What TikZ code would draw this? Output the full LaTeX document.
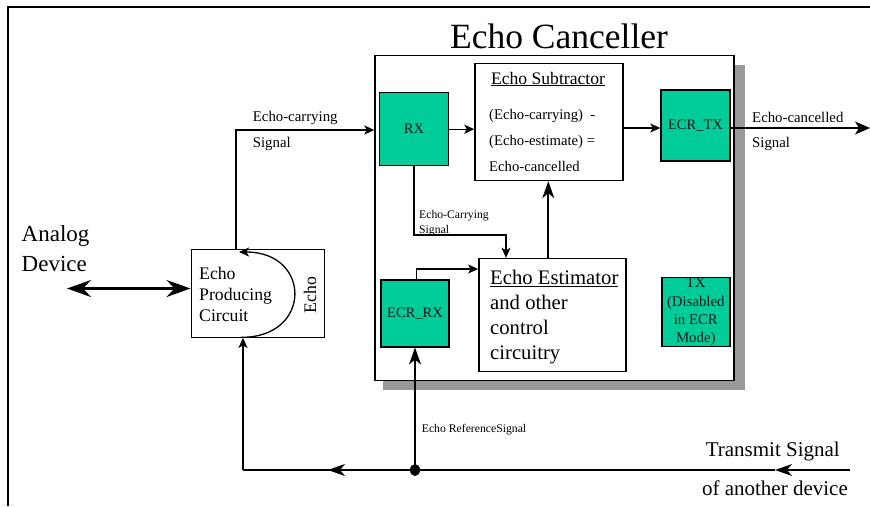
\documentclass[tikz,border=0pt]{standalone}
\usepackage{fontspec}
\setmainfont{Liberation Serif}
\usetikzlibrary{arrows.meta}
\definecolor{ecgreen}{RGB}{0,204,153}
\definecolor{shadowgray}{RGB}{153,153,153}
\newcommand\fsz[2]{\fontsize{#1}{#2}\selectfont}

\begin{document}
\begin{tikzpicture}[x=1pt,y=-1pt,
  box/.style={draw, line width=1.4pt, inner sep=0pt},
  greenbox/.style={box, fill=ecgreen, text=black!90},
  conn/.style={line width=1.3pt},
  arr/.style={conn, -{Stealth[length=10pt,width=9pt,inset=2.5pt]}},
  bigarr/.style={line width=1.8pt, -{Stealth[length=17pt,width=12pt,inset=5pt]}},
  txt/.style={inner sep=0pt, anchor=west},
]
\useasboundingbox (0,0) rectangle (870,506);

% frame
\draw[line width=2.2pt] (8,506) -- (8,7) -- (870,7);

% title
\node[font=\fsz{35.5}{40}] (title) at (559,36) {Echo Canceller};

% echo canceller block with drop shadow
\fill[shadowgray] (383,65) rectangle (745,390);
\node[box, fill=white, minimum width=359pt, minimum height=325pt] (main) at (554.5,218) {};

% inner blocks
\node[box, minimum width=148pt, minimum height=117pt] (sub) at (549,122) {};
\node[txt, anchor=center, font=\fsz{17.6}{20}] (subhead) at (548,79) {\underline{Echo Subtractor}};
\node[txt, align=left, font=\fsz{14.7}{26.3}] (subbody) at (489,140.5)
  {(Echo-carrying)\ \ -\\(Echo-estimate) =\\Echo-cancelled};

\node[greenbox, minimum width=69pt, minimum height=73pt, font=\fsz{14.5}{17}] (rx) at (414,129.2) {RX};
\node[greenbox, minimum width=69pt, minimum height=71pt, font=\fsz{14.5}{17}] (ecrtx) at (695.5,125.5) {ECR\_TX};

\node[box, minimum width=147pt, minimum height=113pt] (est) at (552.3,315) {};
\node[txt, align=left, font=\fsz{20.7}{25}] (esttext) at (490,317.5)
  {\underline{Echo Estimator}\\and other\\control\\circuitry};

\node[greenbox, minimum width=68pt, minimum height=67pt, font=\fsz{14.5}{17}] (ecrrx) at (415,313.3) {ECR\_RX};
\node[greenbox, minimum width=68pt, minimum height=69pt, align=center, font=\fsz{14.8}{18.3}] (tx) at (695.8,312)
  {TX\\(Disabled\\in ECR\\Mode)};

% echo producing circuit
\node[box, minimum width=133pt, minimum height=88pt] (epc) at (257.7,293.2) {};
\node[txt, align=left, font=\fsz{17.7}{21}] (epctext) at (199,294.5) {Echo\\Producing\\Circuit};
\node[rotate=90, inner sep=0pt, font=\fsz{17.7}{21}] (echolbl) at (310,295) {Echo};
\coordinate (cb) at (241,337.3);
\coordinate (ct) at (239,252);
\draw[arr] (cb) .. controls (312,338) and (312,252) .. (ct);

% analog device
\node[txt, align=left, font=\fsz{23}{30}] (analog) at (21.5,248.5) {Analog\\Device};
\coordinate (ad) at (67,288.5);
\draw[line width=2.5pt, {Stealth[length=24pt,width=17pt,inset=8pt]}-{Stealth[length=24pt,width=17pt,inset=8pt]}]
  (ad) -- (epc.west |- ad);

% echo-carrying signal into the canceller
\coordinate (ecup) at (236,130);
\draw[arr] (epc.north -| ecup) |- (main.west |- ecup);
\node[txt, font=\fsz{14.8}{17}] (eclbl1) at (252.7,118.3) {Echo-carrying};
\node[txt, font=\fsz{14.8}{17}] (eclbl2) at (252.7,144) {Signal};

% RX -> subtractor -> ECR_TX -> out
\draw[arr] (rx.east) -- (sub.west |- rx.east);
\coordinate (subout) at (625,128);
\draw[arr] (sub.east |- subout) -- (ecrtx.west |- subout);
\coordinate (out) at (870,128);
\draw[line width=1.5pt, -{Stealth[length=15pt,width=13pt,inset=4pt]}] (ecrtx.east |- out) -- (out);
\node[txt, font=\fsz{14.8}{17}] (cancl1) at (752,117) {Echo-cancelled};
\node[txt, font=\fsz{14.8}{17}] (cancl2) at (752,144) {Signal};

% RX -> estimator
\coordinate (rxbend) at (506,235);
\draw[arr] (rx.south) |- (rxbend) -- (est.north -| rxbend);
\node[txt, font=\fsz{11.7}{14}] (ecc1) at (419,216) {Echo-Carrying};
\node[txt, font=\fsz{11.7}{14}] (ecc2) at (419,230.7) {Signal};

% estimator -> subtractor
\coordinate (estup) at (548.3,0);
\draw[bigarr] (est.north -| estup) -- (sub.south -| estup);

% ECR_RX -> estimator
\coordinate (rxin) at (416.7,269);
\draw[arr] (ecrrx.north -| rxin) |- (est.west |- rxin);

% transmit signal of another device
\coordinate (tin) at (850,470);
\coordinate (a1) at (775,470);
\coordinate (a2) at (328,470);
\coordinate (corner) at (243,470);
\fill (415,470) ellipse [x radius=5pt, y radius=6pt];
\coordinate (dot) at (415,470);
\draw[bigarr, line width=1.3pt] (tin) -- (a1);
\draw[conn] (a1) -- (corner);
\draw[bigarr, line width=1.3pt] (dot) -- (a2);
\draw[arr] (corner) -- (epc.south -| corner);
\draw[bigarr] (dot) -- (ecrrx.south -| dot);
\node[txt, font=\fsz{11.7}{14}] (reflbl) at (421.7,430) {Echo ReferenceSignal};
\node[inner sep=0pt, anchor=east, font=\fsz{21}{24}] (tr1) at (840,451.7) {Transmit Signal};
\node[inner sep=0pt, anchor=east, font=\fsz{21}{24}] (tr2) at (848,488) {of another device};
\end{tikzpicture}
\end{document}
